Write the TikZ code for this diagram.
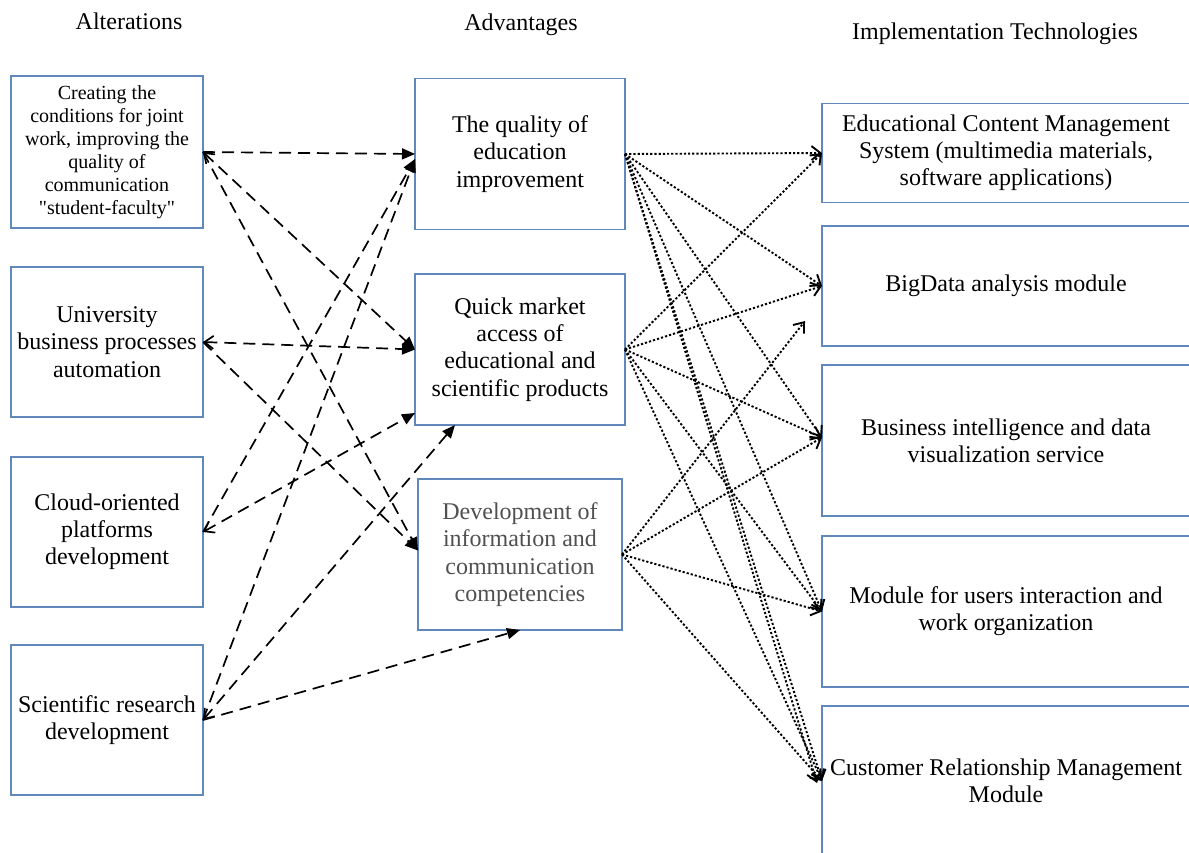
\documentclass[tikz,border=0pt]{standalone}
\usepackage{fontspec}
\setmainfont{Liberation Serif}[Ligatures=TeXOff]
\usetikzlibrary{arrows.meta}
\definecolor{boxblue}{RGB}{96,136,186}
\definecolor{softtext}{RGB}{80,80,80}
\begin{document}
\begin{tikzpicture}[x=0.5pt,y=-0.5pt,
  box/.style={draw=boxblue, line width=0.75pt, align=center, inner sep=2pt, outer sep=0pt,
    font=\fontsize{12}{13.6}\selectfont, text=black},
  colhead/.style={font=\fontsize{12}{13.6}\selectfont, anchor=base, inner sep=0pt},
  dash link/.style={draw=black, line width=0.85pt, dash pattern=on 6pt off 3.5pt,
    -{Triangle[length=6.5pt,width=5.5pt]}},
  back tip/.style={{Straight Barb[length=4.5pt,width=6.5pt]}-{Triangle[length=6.5pt,width=5.5pt]}},
  dot link/.style={draw=black, line width=0.95pt, dash pattern=on 1.1pt off 1pt,
    -{Straight Barb[length=4.5pt,width=7pt]}},
]
\useasboundingbox (0,0) rectangle (1189,852);

% column headings
\node[colhead] (hAlt) at (129,29) {Alterations};
\node[colhead] (hAdv) at (521,30) {Advantages};
\node[colhead] (hImp) at (995,39) {Implementation Technologies};

% alterations
\node[box, minimum width=96pt, minimum height=76pt, font=\fontsize{10}{11.5}\selectfont] (L1) at (107,152)
  {Creating the\\conditions for joint\\work, improving the\\quality of\\communication\\"student-faculty"};
\node[box, minimum width=96pt, minimum height=75pt] (L2) at (107,342)
  {University\\business processes\\automation};
\node[box, minimum width=96pt, minimum height=75pt] (L3) at (107,532)
  {Cloud-oriented\\platforms\\development};
\node[box, minimum width=96pt, minimum height=75pt] (L4) at (107,720)
  {Scientific research\\development};

% advantages
\node[box, minimum width=105pt, minimum height=75.5pt] (M1) at (520,154)
  {The quality of\\education\\improvement};
\node[box, minimum width=105pt, minimum height=75.5pt] (M2) at (520,349.5)
  {Quick market\\access of\\educational and\\scientific products};
\node[box, minimum width=102pt, minimum height=75.5pt, text=softtext] (M3) at (520,554.5)
  {Development of\\information and\\communication\\competencies};

% implementation technologies
\node[box, minimum width=184pt, minimum height=49.5pt] (R1) at (1006,153)
  {Educational Content Management\\System (multimedia materials,\\software applications)};
\node[box, minimum width=184pt, minimum height=60pt] (R2) at (1006,286)
  {BigData analysis module};
\node[box, minimum width=184pt, minimum height=75.5pt] (R3) at (1006,440.5)
  {Business intelligence and data\\visualization service};
\node[box, minimum width=184pt, minimum height=75.5pt] (R4) at (1006,611.5)
  {Module for users interaction and\\work organization};
\node[box, minimum width=184pt, minimum height=75pt] (R5) at (1006,781)
  {Customer Relationship Management\\Module};

\coordinate (loose) at (805,321);

% alterations -> advantages
\draw[dash link] (L1.east) -- (M1.west);
\draw[dash link, back tip] (L1.east) -- (M2.west);
\draw[dash link] (L1.east) -- ([yshift=2pt]M3.west);
\draw[dash link, back tip] (L2.east) -- (M2.west);
\draw[dash link] (L2.east) -- ([yshift=2pt]M3.west);
\draw[dash link] (L3.east) -- ([yshift=-2.5pt]M1.west);
\draw[dash link, back tip] (L3.east) -- ([yshift=6pt]M2.south west);
\draw[dash link] (L4.east) -- ([yshift=-2.5pt]M1.west);
\draw[dash link, back tip] (L4.east) -- ([xshift=20pt]M2.south west);
\draw[dash link] (L4.east) -- ([xshift=51pt]M3.south west);

% advantages -> technologies
\draw[dot link] (M1.east) -- (R1.west);
\draw[dot link] (M1.east) -- (R2.west);
\draw[dot link] (M1.east) -- ([yshift=1.5pt]R3.west);
\draw[dot link] (M1.east) -- (R4.west);
\draw[dot link] (M1.east) -- (R5.west);
\draw[dot link] (M1.east) -- ([xshift=-2.5pt,yshift=-1pt]R5.west);
\draw[dot link] (M2.east) -- (R1.west);
\draw[dot link] (M2.east) -- (R2.west);
\draw[dot link] (M2.east) -- ([yshift=1.5pt]R3.west);
\draw[dot link] (M2.east) -- (R4.west);
\draw[dot link] (M2.east) -- (R5.west);
\draw[dot link] (M3.east) -- (loose);
\draw[dot link] (M3.east) -- ([yshift=1.5pt]R3.west);
\draw[dot link] (M3.east) -- (R4.west);
\draw[dot link] (M3.east) -- (R5.west);
\end{tikzpicture}
\end{document}
